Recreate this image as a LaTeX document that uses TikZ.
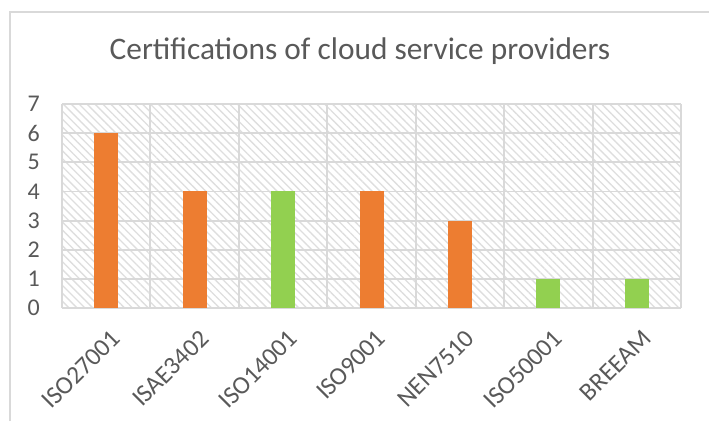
\documentclass[tikz,border=0pt]{standalone}
\usepackage{fontspec}
\setmainfont{Carlito}
\usetikzlibrary{patterns.meta}
\definecolor{barorange}{HTML}{ED7D31}
\definecolor{bargreen}{HTML}{92D050}
\definecolor{gridgrey}{HTML}{D9D9D9}
\definecolor{hatchgrey}{HTML}{DEDEDE}
\definecolor{textgrey}{HTML}{595959}
\begin{document}
\begin{tikzpicture}[x=0.75pt,y=-0.75pt,
  gridline/.style={draw=gridgrey, line width=1.4pt},
  ticklab/.style={anchor=east, inner sep=0pt, text=textgrey, font=\fontsize{18}{21}\selectfont},
  catlab/.style={anchor=east, inner sep=0pt, rotate=45, text=textgrey, font=\fontsize{19}{22}\selectfont},
  orangebar/.style={fill=barorange},
  greenbar/.style={fill=bargreen}]
\useasboundingbox (0,0) rectangle (709,421);
% outer chart frame
\draw[draw=gridgrey, line width=1.2pt] (10,421) -- (10,12) -- (709,12);
% title
\node[text=textgrey, font=\fontsize{23.5}{27}\selectfont] (title) at (360,51) {Certifications of cloud service providers};
% plot area with hatched background
\fill[pattern={Lines[angle=-45,distance=4.2pt,line width=1pt]}, pattern color=hatchgrey] (62,104) rectangle (681,308);
% gridlines and value labels
\foreach \k in {0,...,7} {
  \draw[gridline] (62,{308-\k*29.14}) -- (681,{308-\k*29.14});
  \node[ticklab] (y\k) at (40,{308-\k*29.14}) {\k};
}
\foreach \i in {0,...,7} {
  \draw[gridline] ({62+\i*88.43},104) -- ({62+\i*88.43},308);
}
% bars and category labels
\foreach \i/\v/\s/\name in {0/6/orangebar/ISO27001, 1/4/orangebar/ISAE3402, 2/4/greenbar/ISO14001, 3/4/orangebar/ISO9001, 4/3/orangebar/NEN7510, 5/1/greenbar/ISO50001, 6/1/greenbar/BREEAM} {
  \fill[\s] ({62+(\i+0.5)*88.43-12},308) rectangle ({62+(\i+0.5)*88.43+12},{308-\v*29.14});
  \node[catlab] (c\i) at ({62+(\i+0.5)*88.43+10},334) {\name};
}
\end{tikzpicture}
\end{document}
